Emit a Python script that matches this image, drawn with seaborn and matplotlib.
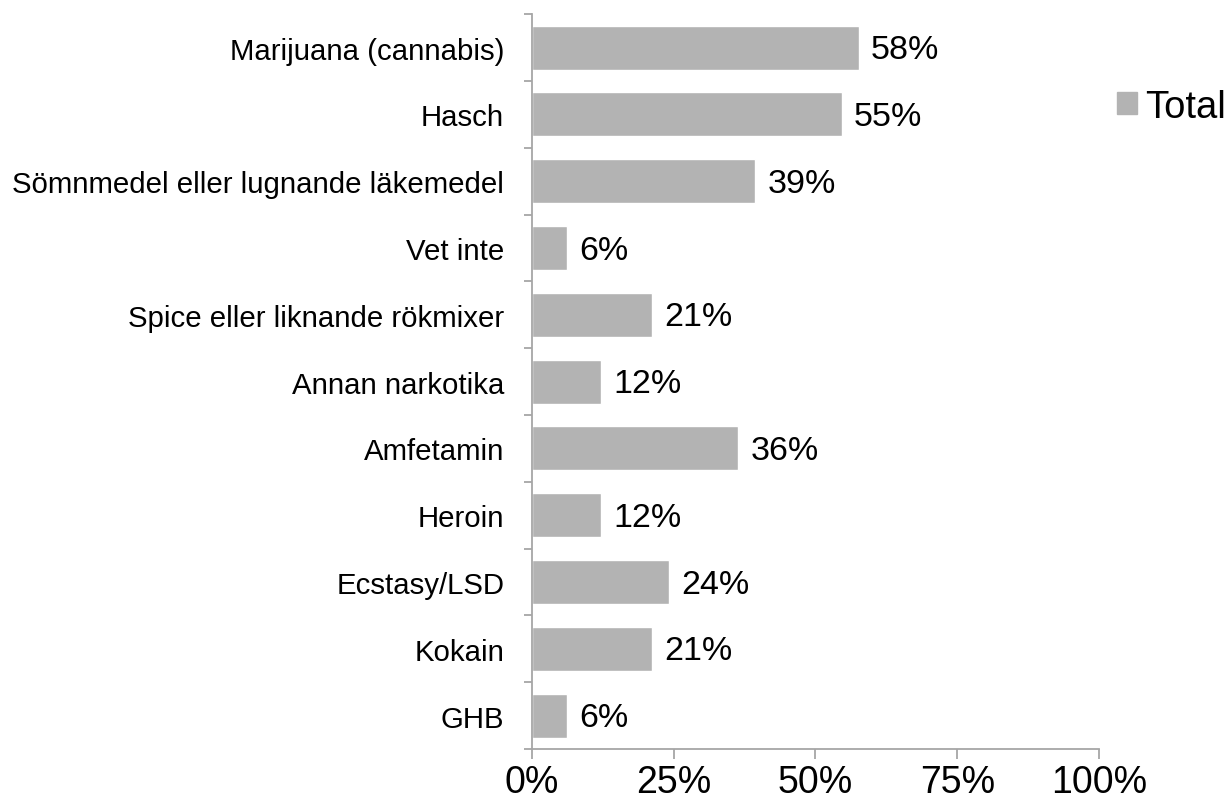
import numpy as np
import pandas as pd
import matplotlib
matplotlib.use("Agg")
import matplotlib.pyplot as plt
import matplotlib.ticker as mtick
import seaborn as sns

# Data (share of respondents, %)
categories = [
    "Marijuana (cannabis)",
    "Hasch",
    "Sömnmedel eller lugnande läkemedel",
    "Vet inte",
    "Spice eller liknande rökmixer",
    "Annan narkotika",
    "Amfetamin",
    "Heroin",
    "Ecstasy/LSD",
    "Kokain",
    "GHB",
]
values = [57.6, 54.6, 39.4, 6.1, 21.2, 12.1, 36.4, 12.1, 24.2, 21.2, 6.1]
x_ticks = [0, 25, 50, 75, 100]
series_name = "Total"

bar_color = "#b3b3b3"
axis_color = "#a6a6a6"

sns.set_style("white")
plt.rcParams["font.family"] = ["Liberation Sans", "DejaVu Sans"]
plt.rcParams["text.color"] = "black"
plt.rcParams["xtick.color"] = "black"
plt.rcParams["ytick.color"] = "black"

df = pd.DataFrame({"kategori": categories, "andel": values})

fig = plt.figure(figsize=(12.3, 8.03), dpi=100)
ax = fig.add_axes([0.4325, 0.066, 0.461, 0.915])

sns.barplot(data=df, x="andel", y="kategori", orient="h", color=bar_color,
            width=0.66, saturation=1, ax=ax)

# Value labels to the right of each bar
for bar, v in zip(ax.patches, values):
    ax.annotate(
        f"{int(v + 0.5)}%",
        xy=(bar.get_width(), bar.get_y() + bar.get_height() / 2),
        xytext=(9, -1.5),
        textcoords="offset points",
        ha="left",
        va="center",
        fontsize=24.5,
        color="black",
    )

ax.set_xlim(0, 100)
ax.set_ylim(len(categories) - 0.5, -0.5)
ax.set_xticks(x_ticks)
ax.xaxis.set_major_formatter(mtick.PercentFormatter(100, decimals=0))
ax.set_xlabel("")
ax.set_ylabel("")

# Axis styling
for side in ["top", "right"]:
    ax.spines[side].set_visible(False)
for side in ["left", "bottom"]:
    ax.spines[side].set_color(axis_color)
    ax.spines[side].set_linewidth(1.3)

ax.tick_params(axis="x", direction="out", length=7, width=1.3, color=axis_color,
               labelcolor="black", labelsize=27, pad=4, bottom=True)
ax.tick_params(axis="y", which="major", length=0, labelsize=21.2, pad=20,
               labelcolor="black")
ax.set_yticks(np.arange(-0.5, len(categories)), minor=True)
ax.tick_params(axis="y", which="minor", direction="out", length=6, width=1.3,
               color=axis_color, left=True)

# Legend outside the plot area
handle = plt.Rectangle((0, 0), 1, 1, color=bar_color)
fig.legend([handle], [series_name], loc="center left",
           bbox_to_anchor=(0.908, 0.866), frameon=False, fontsize=27.5,
           handlelength=0.52, handleheight=0.52, handletextpad=0.22,
           borderpad=0, borderaxespad=0)

fig.savefig("out.png", dpi=100)
